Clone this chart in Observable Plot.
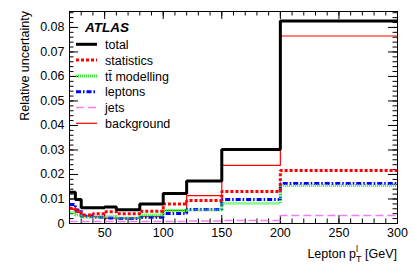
<!DOCTYPE html>
<html><head><meta charset="utf-8">
<script src="https://cdn.jsdelivr.net/npm/d3@7"></script>
<script src="https://cdn.jsdelivr.net/npm/@observablehq/plot@0.6"></script>
<style>
body{margin:0;background:#fff}
#chart{width:414px;height:269px}
</style>
</head><body><div id="chart"></div>
<script>
// ---- data ----
const binEdges = [20, 25, 30, 40, 50, 60, 80, 100, 120, 150, 200, 300];
const total      = [0.0128, 0.0098, 0.0064, 0.0064, 0.0067, 0.0056, 0.0080, 0.0122, 0.0173, 0.0302, 0.0826];
const statistics = [0.0062, 0.0050, 0.0035, 0.0040, 0.0048, 0.0040, 0.0050, 0.0080, 0.0094, 0.0131, 0.0216];
const ttModelling= [0.0045, 0.0035, 0.0025, 0.0025, 0.0030, 0.0022, 0.0035, 0.0053, 0.0055, 0.0083, 0.0155];
const leptons    = [0.0078, 0.0055, 0.0030, 0.0025, 0.0022, 0.0020, 0.0025, 0.0041, 0.0057, 0.0098, 0.0163];
const jets       = [0.0008, 0.0008, 0.0008, 0.0008, 0.0008, 0.0008, 0.0008, 0.0008, 0.0010, 0.0012, 0.0033];
const background = [0.0058, 0.0045, 0.0030, 0.0028, 0.0022, 0.0022, 0.0028, 0.0053, 0.0114, 0.0237, 0.0765];
const legendLabels = ["total", "statistics", "t\u0074\u0304 modelling", "leptons", "jets", "background"];
const xTickValues = [50, 100, 150, 200, 250, 300];
const xTickLabels = ["50", "100", "150", "200", "250", "300"];
const yTickValues = [0, 0.01, 0.02, 0.03, 0.04, 0.05, 0.06, 0.07, 0.08];
const yTickLabels = ["0", "0.01", "0.02", "0.03", "0.04", "0.05", "0.06", "0.07", "0.08"];
const yTitle = "Relative uncertainty";
const brand = "ATLAS";

// ---- styles (kept apart from data) ----
const seriesValues = [total, statistics, ttModelling, leptons, jets, background];
const styles = [
  {stroke: "#000000", width: 3,   dash: null},
  {stroke: "#ff0000", width: 3,   dash: "3,2"},
  {stroke: "#33ee33", width: 3,   dash: "1,1"},
  {stroke: "#0000ff", width: 3,   dash: "5,2,1.5,2"},
  {stroke: "#f080f0", width: 1.5, dash: "8,4"},
  {stroke: "#ff0000", width: 1.2, dash: null}
];
const FONT = "'Liberation Sans', Arial, Helvetica, sans-serif";

const W = 414, H = 269, mL = 69, mR = 17, mT = 11, mB = 46;
const pw = W - mL - mR, ph = H - mT - mB;

function stepRows(values) {
  return binEdges.map((e, i) => ({x: e, y: values[Math.min(i, values.length - 1)]}));
}

const yMinor = d3.range(0, 0.0866, 0.002);
const xMinor = d3.range(20, 301, 10);

function overlay(index, scales, values, dims) {
  const g = d3.create("svg:g").attr("font-family", FONT).attr("fill", "black").attr("text-anchor", "start");
  g.append("text").attr("x", 85).attr("y", 32).attr("text-anchor", "start")
    .attr("font-weight", "bold").attr("font-style", "italic").attr("font-size", 13.5).text(brand);
  legendLabels.forEach((lab, i) => {
    const y = 44.3 + i * 15.8;
    const s = styles[i];
    const ln = g.append("line").attr("x1", 76).attr("x2", 97).attr("y1", y).attr("y2", y)
      .attr("stroke", s.stroke).attr("stroke-width", s.width);
    if (s.dash) ln.attr("stroke-dasharray", s.dash);
    g.append("text").attr("x", 105).attr("y", y + 4.6).attr("text-anchor", "start").attr("font-size", 12.5).text(lab);
  });
  // x title
  const t = g.append("text").attr("x", W - mR).attr("y", 258).attr("font-size", 12.5).attr("text-anchor", "end");
  t.append("tspan").text("Lepton p");
  t.append("tspan").attr("font-size", 9).attr("dy", 4).text("T");
  t.append("tspan").attr("font-size", 9).attr("dx", -5.5).attr("dy", -10).text("l");
  t.append("tspan").attr("dx", 3.5).attr("dy", 6).text(" [GeV]");
  // y title
  g.append("text").attr("transform", `translate(29,${mT}) rotate(-90)`)
    .attr("text-anchor", "end").attr("font-size", 12.5).text(yTitle);
  return g.node();
}

const marks = [
  Plot.ruleY(yMinor, {y: d => d, insetRight: pw - 4.5, stroke: "black"}),
  Plot.ruleY(yTickValues, {y: d => d, insetRight: pw - 9, stroke: "black"}),
  Plot.ruleY(yMinor, {y: d => d, insetLeft: pw - 4.5, stroke: "black"}),
  Plot.ruleY(yTickValues, {y: d => d, insetLeft: pw - 9, stroke: "black"}),
  Plot.ruleX(xMinor, {x: d => d, insetTop: ph - 4.5, stroke: "black"}),
  Plot.ruleX(xTickValues, {x: d => d, insetTop: ph - 8, stroke: "black"}),
  Plot.ruleX(xMinor, {x: d => d, insetBottom: ph - 4.5, stroke: "black"}),
  Plot.ruleX(xTickValues, {x: d => d, insetBottom: ph - 8, stroke: "black"}),
  Plot.axisY(yTickValues, {tickSize: 0, tickPadding: 5, fontSize: 12.5, tickFormat: (d, i) => yTickLabels[i], label: null}),
  Plot.axisX(xTickValues, {tickSize: 0, tickPadding: 5, fontSize: 12.5, tickFormat: (d, i) => xTickLabels[i], label: null})
];
// draw in order: background, jets, leptons, tt, stats, total on top
[5, 4, 3, 2, 1, 0].forEach(i => {
  const s = styles[i];
  const opts = {x: "x", y: "y", curve: "step-after", stroke: s.stroke, strokeWidth: s.width, strokeLinecap: "butt", strokeLinejoin: "miter"};
  if (s.dash) opts.strokeDasharray = s.dash;
  marks.push(Plot.line(stepRows(seriesValues[i]), opts));
});
marks.push(Plot.frame({stroke: "black"}));
marks.push(overlay);

const chart = Plot.plot({
  width: W, height: H,
  marginLeft: mL, marginRight: mR, marginTop: mT, marginBottom: mB,
  style: {fontFamily: FONT, fontSize: "12.5px", background: "white", color: "black"},
  x: {domain: [20, 300]},
  y: {domain: [0, 0.0865]},
  marks
});
document.getElementById("chart").appendChild(chart);
</script>
</body></html>
